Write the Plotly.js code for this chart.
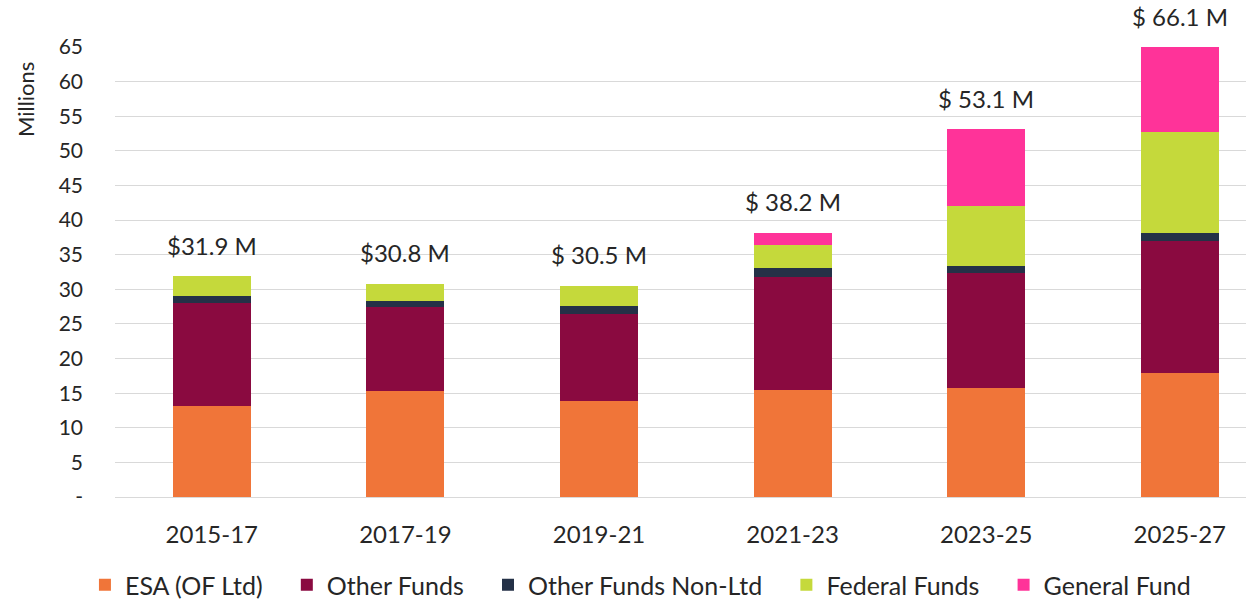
<!DOCTYPE html>
<html>
<head>
<meta charset="utf-8">
<script src="https://cdn.plot.ly/plotly-3.0.1.min.js"></script>
<style>html,body{margin:0;padding:0;background:#fff;}#chart{width:1246px;height:599px;}</style>
</head>
<body>
<div id="chart"></div>
<script>
const categories = ["2015-17", "2017-19", "2019-21", "2021-23", "2023-25", "2025-27"];
const esaOfLtd      = [13.1, 15.3, 13.9, 15.5, 15.7, 17.9];
const otherFunds    = [14.9, 12.1, 12.5, 16.3, 16.7, 19.1];
const otherNonLtd   = [1.0, 0.9, 1.2, 1.3, 1.0, 1.1];
const federalFunds  = [2.9, 2.5, 2.9, 3.3, 8.6, 14.6];
const generalFund   = [0, 0, 0, 1.8, 11.1, 13.4];
const totalLabels   = ["$31.9 M", "$30.8 M", "$ 30.5 M", "$ 38.2 M", "$ 53.1 M", "$ 66.1 M"];
const yTickVals     = [0, 5, 10, 15, 20, 25, 30, 35, 40, 45, 50, 55, 60, 65];
const yTickText     = ["-", "5", "10", "15", "20", "25", "30", "35", "40", "45", "50", "55", "60", "65"];

const FONT = "Lato, 'Open Sans', sans-serif";
const series = [
  {name: "ESA (OF Ltd)", y: esaOfLtd, color: "#F07539"},
  {name: "Other Funds", y: otherFunds, color: "#8A0A40"},
  {name: "Other Funds Non-Ltd", y: otherNonLtd, color: "#243147"},
  {name: "Federal Funds", y: federalFunds, color: "#C5D93B"},
  {name: "General Fund", y: generalFund, color: "#FF3399"}
];
const PAD = "\u00a0\u00a0\u00a0";
const traces = series.map((s, i) => ({
  type: "bar", name: s.name + (i < series.length - 1 ? PAD : ""), x: categories, y: s.y,
  marker: {color: s.color, line: {width: 0}},
  hoverinfo: "skip"
}));

const yMax = 65;
const totals = categories.map((c, i) => series.reduce((a, s) => a + s.y[i], 0));
const annotations = categories.map((c, i) => ({
  x: c, y: Math.min(totals[i], yMax), xref: "x", yref: "y",
  text: totalLabels[i], showarrow: false, yanchor: "middle", yshift: 31,
  font: {family: FONT, size: 24, color: "#262626"}
}));
annotations.push({
  xref: "paper", yref: "paper", x: 0, xanchor: "center", xshift: -90,
  y: 0.882, yanchor: "middle", text: "Millions", textangle: -90,
  showarrow: false, font: {family: FONT, size: 22, color: "#262626"}
});

const layout = {
  width: 1246, height: 599,
  margin: {l: 115, r: 0, t: 47, b: 102},
  barmode: "stack", bargap: 0.597,
  paper_bgcolor: "#fff", plot_bgcolor: "#fff",
  font: {family: FONT, color: "#404040"},
  xaxis: {
    type: "category", range: [-0.5, 5.342],
    showgrid: false, showline: true, linecolor: "#D9D9D9", linewidth: 1,
    ticks: "", ticklabelstandoff: 16,
    tickfont: {family: FONT, size: 24, color: "#262626"}, fixedrange: true
  },
  yaxis: {
    range: [0, yMax], tickvals: yTickVals, ticktext: yTickText,
    showgrid: true, gridcolor: "#D9D9D9", gridwidth: 1, zeroline: false,
    showline: false, ticks: "", ticklabelstandoff: 31,
    tickfont: {family: FONT, size: 21, color: "#262626"}, fixedrange: true
  },
  showlegend: true,
  legend: {
    orientation: "h", xref: "container", yref: "container",
    x: 0.514, xanchor: "center", y: 14/599, yanchor: "middle",
    font: {family: FONT, size: 25, color: "#262626"},
    itemwidth: 30, traceorder: "normal", bgcolor: "rgba(0,0,0,0)"
  },
  annotations: annotations
};

Plotly.newPlot("chart", traces, layout, {displayModeBar: false, staticPlot: true});
</script>
</body>
</html>
